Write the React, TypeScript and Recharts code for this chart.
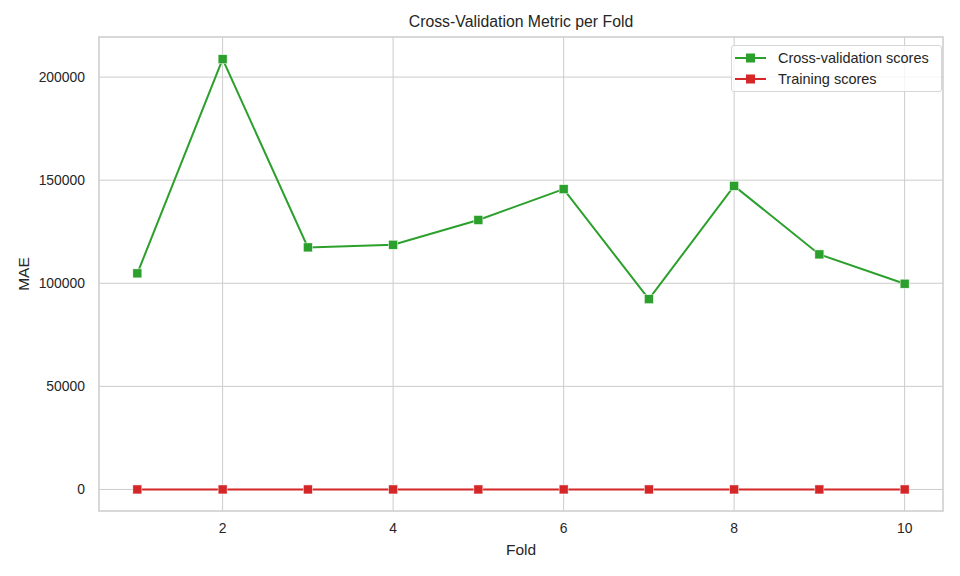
import React from "react";
import {
  LineChart,
  Line,
  XAxis,
  YAxis,
  CartesianGrid,
  ReferenceArea,
  Label,
} from "recharts";

const folds = [1, 2, 3, 4, 5, 6, 7, 8, 9, 10];
const cvScores = [104800, 208700, 117400, 118700, 130700, 145650, 92300, 147250, 114000, 99800];
const trainScores = [0, 0, 0, 0, 0, 0, 0, 0, 0, 0];
const xTicks = [2, 4, 6, 8, 10];
const yTicks = [0, 50000, 100000, 150000, 200000];
const seriesNames = ["Cross-validation scores", "Training scores"];
const colors = ["#2ca02c", "#d62728"];

const data = folds.map((f, i) => ({ fold: f, cv: cvScores[i], train: trainScores[i] }));

const FONT = '"Liberation Sans", Arial, sans-serif';
const TEXT = "#262626";

const SquareDot = (props: any) => {
  const { cx, cy, fill } = props;
  if (cx == null || cy == null) return null;
  const s = 9;
  return <rect x={cx - s / 2} y={cy - s / 2} width={s} height={s} fill={fill} stroke="#ffffff" strokeWidth={0.5} />;
};

const YLabel = (props: any) => {
  const vb = props.viewBox || {};
  const cy = (vb.y || 0) + (vb.height || 0) / 2;
  const x = 29;
  return (
    <text
      x={x}
      y={cy}
      transform={`rotate(-90, ${x}, ${cy})`}
      textAnchor="middle"
      fill={TEXT}
      fontSize={15.5}
      fontFamily={FONT}
    >
      MAE
    </text>
  );
};

const XLabel = (props: any) => {
  const vb = props.viewBox || {};
  const cx = (vb.x || 0) + (vb.width || 0) / 2;
  return (
    <text x={cx} y={555} textAnchor="middle" fill={TEXT} fontSize={15.5} fontFamily={FONT}>
      Fold
    </text>
  );
};

const LegendBox = () => (
  <div
    style={{
      position: "absolute",
      left: 731,
      top: 45,
      width: 211,
      height: 47,
      border: "1px solid #d6d6d6",
      borderRadius: 3,
      background: "rgba(255,255,255,0.8)",
      padding: "1px 0 0 2px",
      fontFamily: FONT,
      fontSize: 14.5,
      color: TEXT,
      boxSizing: "border-box",
    }}
  >
    {seriesNames.map((n, i) => (
      <div key={n} style={{ display: "flex", alignItems: "center", height: 21 }}>
        <svg width={44} height={12} style={{ flex: "none" }}>
          <line x1={1} y1={6} x2={32} y2={6} stroke={colors[i]} strokeWidth={2} />
          <rect x={12} y={1.5} width={9} height={9} fill={colors[i]} />
        </svg>
        <span style={{ whiteSpace: "nowrap" }}>{n}</span>
      </div>
    ))}
  </div>
);

export default function App() {
  return (
    <div style={{ position: "absolute", left: 0, top: 0, width: 960, height: 576, background: "#fff" }}>
      <div
        style={{
          position: "absolute",
          top: 13,
          left: 99,
          width: 844,
          textAlign: "center",
          fontFamily: FONT,
          fontSize: 15.8,
          color: TEXT,
        }}
      >
        Cross-Validation Metric per Fold
      </div>
      <LineChart
        width={960}
        height={576}
        data={data}
        margin={{ top: 37, right: 17, bottom: 0, left: 0 }}
        style={{ fontFamily: FONT }}
      >
        <CartesianGrid stroke="#cccccc" strokeWidth={1} verticalValues={xTicks} horizontalValues={yTicks} />
        <XAxis
          dataKey="fold"
          type="number"
          domain={[0.55, 10.45]}
          ticks={xTicks}
          allowDataOverflow
          axisLine={false}
          tickLine={false}
          tickSize={6}
          tickMargin={6}
          height={65}
          tick={{ fill: TEXT, fontSize: 13.9 }}
        >
          <Label content={<XLabel />} />
        </XAxis>
        <YAxis
          type="number"
          domain={[-10450, 219450]}
          ticks={yTicks}
          allowDataOverflow
          width={99}
          axisLine={false}
          tickLine={false}
          tickSize={6}
          tickMargin={8}
          tick={{ fill: TEXT, fontSize: 13.9 }}
        >
          <Label content={<YLabel />} />
        </YAxis>
        <ReferenceArea
          x1={0.55}
          x2={10.45}
          y1={-10450}
          y2={219450}
          fill="none"
          stroke="#cccccc"
          strokeWidth={1.5}
          ifOverflow="visible"
        />
        <Line
          dataKey="cv"
          name={seriesNames[0]}
          stroke={colors[0]}
          strokeWidth={2}
          dot={<SquareDot fill={colors[0]} />}
          activeDot={false}
          isAnimationActive={false}
        />
        <Line
          dataKey="train"
          name={seriesNames[1]}
          stroke={colors[1]}
          strokeWidth={2}
          dot={<SquareDot fill={colors[1]} />}
          activeDot={false}
          isAnimationActive={false}
        />
      </LineChart>
      <LegendBox />
    </div>
  );
}
